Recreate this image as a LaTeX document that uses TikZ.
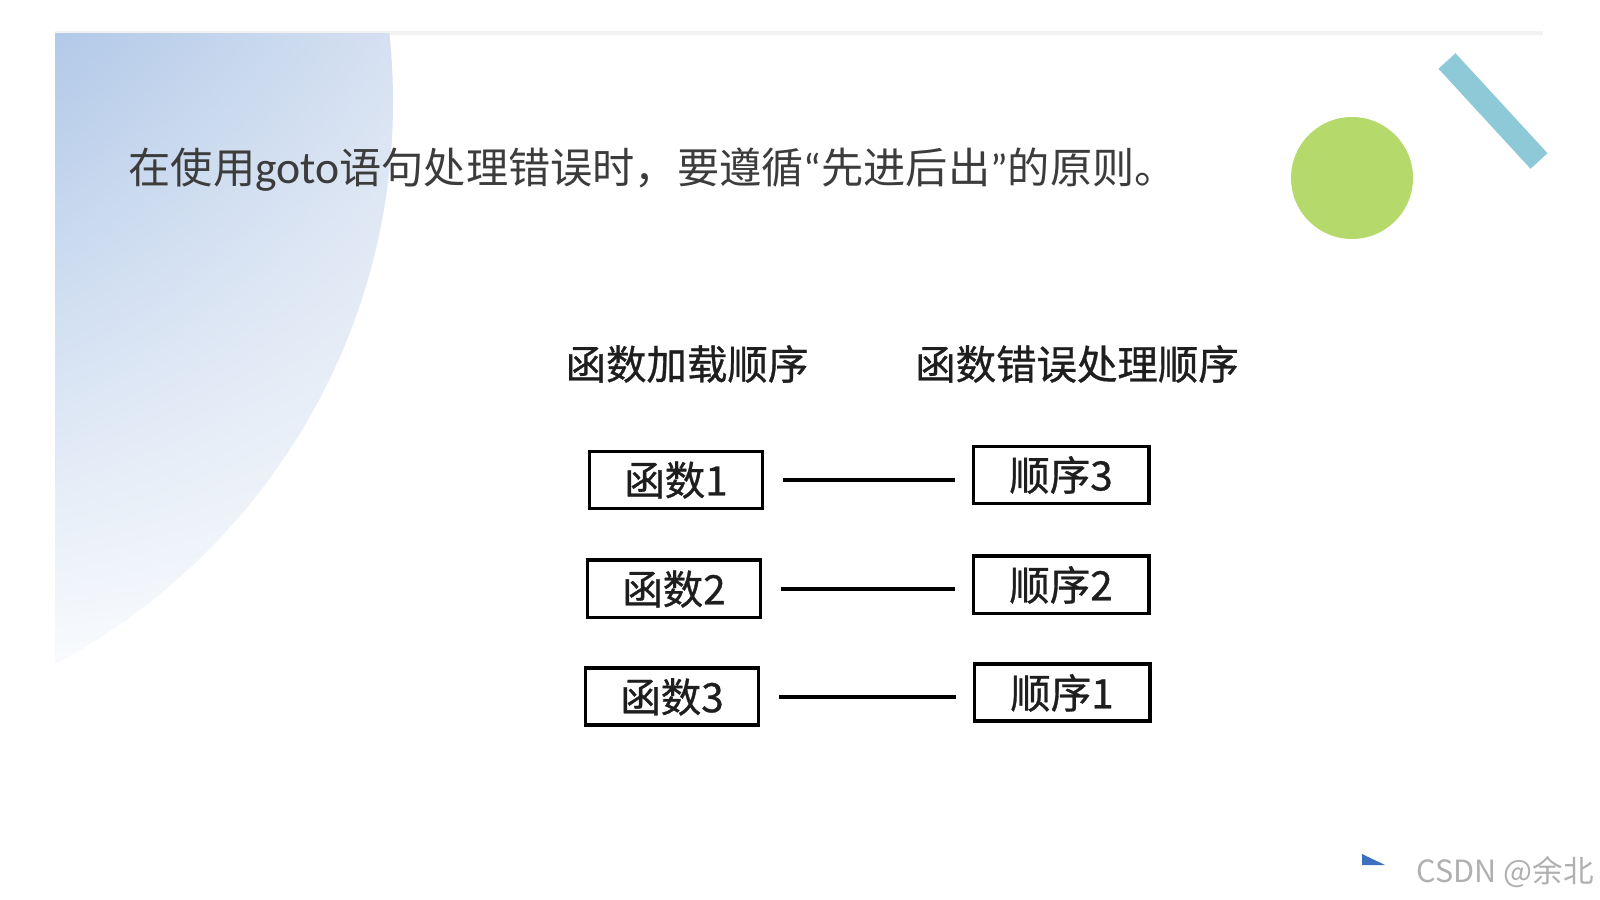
\documentclass[tikz,border=0pt]{standalone}
\usepackage{fontspec}
\newfontfamily\cjk{Noto Sans CJK SC}
\newfontfamily\cjkmid[FakeBold=0.8]{Noto Sans CJK SC}
\newfontfamily\latin{Carlito}
\usepackage{tikz}
\usetikzlibrary{positioning,shadings}
\definecolor{panelBlue}{RGB}{178,201,232}
\definecolor{panelPale}{RGB}{214,225,241}
\definecolor{leafGreen}{RGB}{181,217,106}
\definecolor{barTeal}{RGB}{142,201,216}
\definecolor{textGray}{RGB}{30,30,30}
\definecolor{titleGray}{RGB}{60,60,60}
\definecolor{markGray}{RGB}{176,176,176}
\definecolor{markBlue}{RGB}{61,111,192}
\tikzset{
  fnbox/.style={rectangle,draw=black,line width=1.1pt,
    minimum width=1.73cm,minimum height=0.57cm,inner sep=0pt,
    font=\cjkmid\fontsize{11.5}{13}\selectfont,text=textGray},
  header/.style={font=\cjkmid\fontsize{11.5}{14}\selectfont,text=textGray},
  link/.style={draw=black,line width=1.1pt,shorten <=0.18cm,shorten >=0.17cm}
}
\begin{document}
\begin{tikzpicture}[x=0.01cm,y=-0.01cm]
  \useasboundingbox[fill=white] (0,0) rectangle (1600,900);
  % slide background
  \draw[gray!10,line width=1pt] (55,33) -- (1543,33);
  \begin{scope}
    \clip (55,33) rectangle (1600,900);
    \clip (-243,102) circle[radius=636];
    \shade[upper left=panelBlue,upper right=panelPale,
      lower left=white,lower right=white] (55,33) rectangle (400,720);
  \end{scope}
  \fill[leafGreen] (1352,178) circle[radius=61];
  \draw[barTeal,line width=0.23cm] (1447,61) -- (1539,161);
  % title
  \node[anchor=west,inner sep=0pt,text=titleGray,
    font=\cjk\fontsize{12}{14}\selectfont] (title) at (128,170)
    {在使用{\latin\fontsize{13}{14}\selectfont goto}语句处理错误时，要遵循{\latin “}先进后出{\latin ”}的原则。};
  % columns
  \node[header] (hdrLoad) at (687,364) {函数加载顺序};
  \node[header] (hdrErr) at (1077,364) {函数错误处理顺序};
  \node[fnbox] (f1) at (676,480) {函数1};
  \node[fnbox, below=0.48cm of f1, xshift=-0.02cm] (f2) {函数2};
  \node[fnbox, below=0.47cm of f2, xshift=-0.02cm] (f3) {函数3};
  \node[fnbox, minimum width=1.75cm] (o3) at (1061,475) {顺序3};
  \node[fnbox, minimum width=1.75cm, below=0.49cm of o3] (o2) {顺序2};
  \node[fnbox, minimum width=1.75cm, below=0.47cm of o2, xshift=0.01cm] (o1) {顺序1};
  \draw[link] (f1.east) -- (f1.east -| o3.west);
  \draw[link] (f2.east) -- (f2.east -| o2.west);
  \draw[link] (f3.east) -- (f3.east -| o1.west);
  % watermark
  \fill[markBlue] (1362,854) -- (1385,865) -- (1362,865) -- cycle;
  \node[anchor=west,inner sep=0pt,text=markGray,
    font=\cjk\fontsize{8.7}{10}\selectfont] (mark) at (1416,872) {CSDN @余北};
\end{tikzpicture}
\end{document}
